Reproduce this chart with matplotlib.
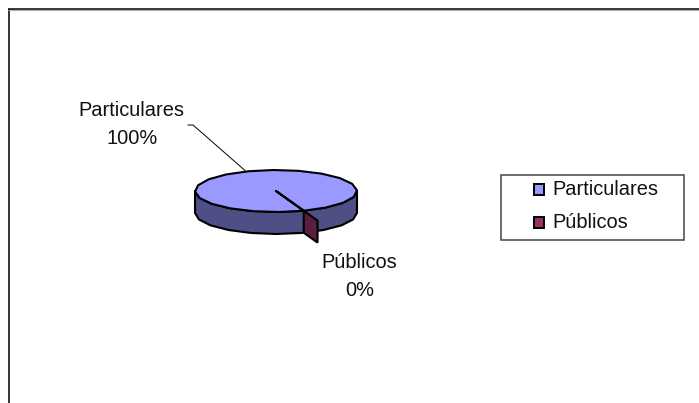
import numpy as np
import matplotlib
matplotlib.use("Agg")
import matplotlib.pyplot as plt
from matplotlib.patches import Polygon, Rectangle

plt.rcParams['font.family'] = ['Liberation Sans', 'DejaVu Sans']

categories = ['Particulares', 'Públicos']
values = [100, 0]
pct_labels = ['100%', '0%']
colors = ['#9999FF', '#993366']
side_colors = ['#4F4F85', '#5A1F3D']

# pie geometry, in picture pixels
cx, cy = 276, 191
rx, ry = 81, 21
depth = 22
start = np.deg2rad(70)
explode = 0.5
font_size = 14.4


def rim(t, oy=0):
    return np.column_stack([cx + rx * np.cos(t), cy + oy + ry * np.sin(t)])


fig = plt.figure(figsize=(6.99, 4.03), dpi=100)
ax = fig.add_axes([0, 0, 1, 1])
ax.set_xlim(0, 699)
ax.set_ylim(403, 0)
ax.axis('off')

# outer frame, cut by the picture on the right and at the bottom
ax.plot([8.7, 8.7], [403, 9], color='#333333', lw=1.4, solid_capstyle='butt')
ax.plot([8, 699], [10.2, 10.2], color='#b0b0b0', lw=0.8, solid_capstyle='butt')
ax.plot([8, 699], [9.2, 9.2], color='black', lw=1.1, solid_capstyle='butt')

# angles of the slices come from the values
shares = np.array(values) / sum(values)
t = np.linspace(start, start + 2 * np.pi * shares[0], 21)

# front wall of the pie
front = np.linspace(0, np.pi, 11)
wall = np.vstack([rim(front), rim(front[::-1], oy=depth)])
ax.add_patch(Polygon(wall, closed=True, fc=side_colors[0], ec='black', lw=1.5, joinstyle='round'))

# top of the big slice
top = np.vstack([[[cx, cy]], rim(t)])
ax.add_patch(Polygon(top, closed=True, fc=colors[0], ec='black', lw=1.5, joinstyle='round'))

# exploded zero slice: only its cut face shows
p0 = rim(np.array([start]))[0]
d = np.array([p0[0] - cx, p0[1] - cy]) * explode
face = [p0, p0 + d, p0 + d + [0, depth], p0 + [0, depth]]
ax.add_patch(Polygon(face, closed=True, fc=side_colors[1], ec='black', lw=1.5))

# data labels
ax.plot([188, 193, 245], [125, 125, 170.5], color='black', lw=0.7)
ax.text(131.5, 116, categories[0], ha='center', va='baseline', fontsize=font_size, color='#111111')
ax.text(132.5, 144, pct_labels[0], ha='center', va='baseline', fontsize=font_size, color='#111111')
ax.text(359.7, 268, categories[1], ha='center', va='baseline', fontsize=font_size, color='#111111')
ax.text(359.7, 296.5, pct_labels[1], ha='center', va='baseline', fontsize=font_size, color='#111111')

# legend box
ax.add_patch(Rectangle((501, 174.5), 183, 65.5, fc='white', ec='#444444', lw=1.1))
for i, name in enumerate(categories):
    base = 195 + i * 32.5
    ax.add_patch(Rectangle((533.5, base - 11), 10.5, 11, fc=colors[i], ec='black', lw=1.4))
    ax.text(552, base, name, ha='left', va='baseline', fontsize=font_size, color='#111111')

fig.savefig('out.png', dpi=100)
